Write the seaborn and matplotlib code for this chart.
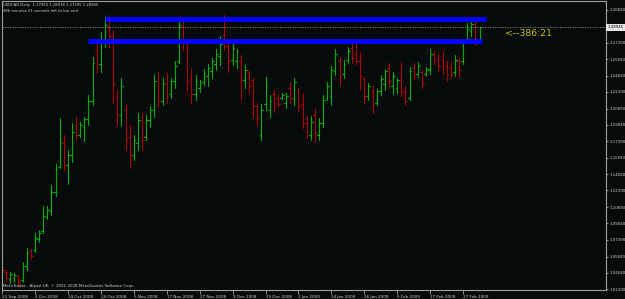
import numpy as np
import pandas as pd
import matplotlib
matplotlib.use("Agg")
import matplotlib.pyplot as plt
import matplotlib.transforms as mtransforms
import seaborn as sns

# ---------------- data ----------------
opens = [1.049, 1.041, 1.034, 1.035, 1.037, 1.033, 1.047, 1.062, 1.063, 1.075,
         1.083, 1.097, 1.103, 1.122, 1.148, 1.172, 1.150, 1.160, 1.190, 1.180,
         1.188, 1.196, 1.215, 1.266, 1.252, 1.275, 1.290, 1.280, 1.220, 1.200,
         1.205, 1.178, 1.160, 1.172, 1.195, 1.178, 1.195, 1.205, 1.235, 1.215,
         1.233, 1.222, 1.235, 1.255, 1.290, 1.272, 1.238, 1.222, 1.228, 1.234,
         1.240, 1.245, 1.252, 1.260, 1.282, 1.270, 1.256, 1.255, 1.255, 1.236,
         1.244, 1.236, 1.210, 1.180, 1.212, 1.205, 1.222, 1.218, 1.218, 1.213,
         1.228, 1.217, 1.225, 1.212, 1.192, 1.180, 1.200, 1.180, 1.192, 1.218,
         1.220, 1.245, 1.255, 1.242, 1.256, 1.268, 1.262, 1.255, 1.238, 1.220,
         1.225, 1.213, 1.225, 1.232, 1.248, 1.230, 1.228, 1.236, 1.225, 1.218,
         1.248, 1.242, 1.244, 1.242, 1.246, 1.262, 1.258, 1.256, 1.250, 1.248,
         1.244, 1.255, 1.255, 1.275, 1.286, 1.293, 1.2735]
highs = [1.051, 1.043, 1.041, 1.040, 1.038, 1.051, 1.066, 1.065, 1.081, 1.084,
         1.108, 1.108, 1.129, 1.151, 1.197, 1.180, 1.165, 1.192, 1.199, 1.193,
         1.198, 1.221, 1.259, 1.274, 1.285, 1.300, 1.302, 1.287, 1.226, 1.238,
         1.212, 1.190, 1.180, 1.202, 1.202, 1.200, 1.210, 1.241, 1.244, 1.238,
         1.243, 1.238, 1.255, 1.298, 1.299, 1.277, 1.248, 1.241, 1.236, 1.247,
         1.252, 1.258, 1.267, 1.280, 1.302, 1.274, 1.274, 1.267, 1.261, 1.251,
         1.246, 1.238, 1.213, 1.212, 1.239, 1.221, 1.226, 1.222, 1.223, 1.223,
         1.234, 1.238, 1.228, 1.223, 1.199, 1.199, 1.207, 1.197, 1.221, 1.234,
         1.250, 1.267, 1.258, 1.256, 1.269, 1.276, 1.273, 1.264, 1.239, 1.233,
         1.231, 1.227, 1.241, 1.247, 1.253, 1.244, 1.238, 1.254, 1.230, 1.249,
         1.253, 1.254, 1.246, 1.249, 1.267, 1.265, 1.262, 1.265, 1.255, 1.254,
         1.261, 1.258, 1.276, 1.294, 1.298, 1.297, 1.28978]
lows = [1.041, 1.032, 1.030, 1.031, 1.027, 1.031, 1.043, 1.054, 1.061, 1.072,
        1.081, 1.095, 1.099, 1.118, 1.147, 1.145, 1.130, 1.153, 1.175, 1.178,
        1.174, 1.190, 1.211, 1.243, 1.244, 1.269, 1.269, 1.213, 1.190, 1.190,
        1.165, 1.147, 1.155, 1.165, 1.165, 1.175, 1.188, 1.198, 1.209, 1.211,
        1.213, 1.218, 1.228, 1.253, 1.266, 1.224, 1.213, 1.216, 1.224, 1.231,
        1.230, 1.238, 1.246, 1.251, 1.266, 1.244, 1.251, 1.248, 1.216, 1.228,
        1.223, 1.198, 1.190, 1.175, 1.205, 1.198, 1.203, 1.209, 1.217, 1.207,
        1.213, 1.211, 1.203, 1.187, 1.177, 1.175, 1.173, 1.175, 1.188, 1.216,
        1.211, 1.241, 1.231, 1.238, 1.253, 1.253, 1.251, 1.226, 1.213, 1.216,
        1.202, 1.211, 1.221, 1.226, 1.228, 1.222, 1.223, 1.219, 1.211, 1.216,
        1.238, 1.239, 1.228, 1.240, 1.242, 1.252, 1.246, 1.242, 1.235, 1.239,
        1.240, 1.239, 1.252, 1.273, 1.280, 1.271, 1.27295]
closes = [1.043, 1.035, 1.039, 1.038, 1.031, 1.047, 1.060, 1.057, 1.076, 1.081,
          1.098, 1.104, 1.122, 1.146, 1.173, 1.150, 1.160, 1.183, 1.180, 1.190,
          1.196, 1.215, 1.253, 1.251, 1.276, 1.292, 1.280, 1.232, 1.200, 1.230,
          1.175, 1.160, 1.175, 1.195, 1.175, 1.195, 1.205, 1.235, 1.215, 1.232,
          1.220, 1.235, 1.250, 1.292, 1.275, 1.235, 1.222, 1.235, 1.233, 1.243,
          1.248, 1.255, 1.262, 1.272, 1.270, 1.255, 1.268, 1.265, 1.236, 1.246,
          1.230, 1.210, 1.197, 1.205, 1.230, 1.215, 1.213, 1.212, 1.221, 1.220,
          1.218, 1.234, 1.210, 1.192, 1.183, 1.193, 1.182, 1.192, 1.216, 1.230,
          1.246, 1.262, 1.240, 1.252, 1.265, 1.258, 1.255, 1.240, 1.220, 1.230,
          1.212, 1.225, 1.237, 1.245, 1.235, 1.240, 1.236, 1.224, 1.215, 1.245,
          1.242, 1.250, 1.232, 1.247, 1.262, 1.256, 1.250, 1.248, 1.242, 1.242,
          1.256, 1.246, 1.273, 1.288, 1.293, 1.273, 1.28945]

date_labels = ["22 Sep 2008", "2 Oct 2008", "14 Oct 2008", "24 Oct 2008",
               "5 Nov 2008", "17 Nov 2008", "27 Nov 2008", "9 Dec 2008",
               "19 Dec 2008", "2 Jan 2009", "14 Jan 2009", "26 Jan 2009",
               "5 Feb 2009", "17 Feb 2009", "27 Feb 2009"]
bars_per_label = 8

price_ticks = [1.30690, 1.29040, 1.27390, 1.25690, 1.24040, 1.22390, 1.20690,
               1.19040, 1.17390, 1.15690, 1.14040, 1.12390, 1.10690, 1.09040,
               1.07390, 1.05690, 1.04040, 1.02390]

current_price = 1.28945
level_prices = [1.2982, 1.2754]
level_start = [25, 21]
level_end = [117.6, 116.6]

title_line1 = "USDCAD,Daily  1.27350 1.28978 1.27295 1.28945"
title_line2 = "386 minutes 21 seconds left to bar end"
footer = "MetaTrader - Alpari UK, \u00a9 2001-2008 MetaQuotes Software Corp."
countdown = "<--386:21"

# ---------------- style ----------------
BG = "#050b0b"
UP = "#00b000"
DOWN = "#b00000"
FG = "#d0d0d0"
FRAME = "#a0a0a0"

sns.set_theme(style="dark", rc={"axes.facecolor": BG, "figure.facecolor": BG,
                               "axes.edgecolor": FRAME, "axes.grid": False})
plt.rcParams["font.family"] = ["DejaVu Sans"]

W, H = 625, 299
fig = plt.figure(figsize=(W / 100, H / 100), dpi=100)
ax = fig.add_axes([2 / W, 1 - 290 / H, 604 / W, 289 / H])
ax.set_facecolor(BG)

# ---------------- OHLC bars via seaborn lineplot ----------------
rows = []
tick_w = 0.42
for i, (o, h, l, c) in enumerate(zip(opens, highs, lows, closes)):
    d = "up" if c >= o else "down"
    rows += [(i, l, f"hl{i}", d), (i, h, f"hl{i}", d),
             (i - tick_w, o, f"o{i}", d), (i, o, f"o{i}", d),
             (i, c, f"c{i}", d), (i + tick_w, c, f"c{i}", d)]
df = pd.DataFrame(rows, columns=["bar", "price", "seg", "dir"])
sns.lineplot(data=df, x="bar", y="price", units="seg", hue="dir",
             estimator=None, sort=False, palette={"up": UP, "down": DOWN},
             linewidth=0.8, legend=False, ax=ax)

# resistance levels (blue)
for p, s, e in zip(level_prices, level_start, level_end):
    ax.plot([s, e], [p, p], color="#0000ff", lw=3.6, solid_capstyle="butt")

# current price dotted line
ax.axhline(current_price, color="#8a8a8a", lw=0.6, ls=(0, (1.5, 1.5)))

xmin = 0.1
xmax = xmin + 604 / 4.12
ax.set_xlim(xmin, xmax)
ax.set_ylim(1.317 - 0.001014 * 290, 1.317 - 0.001014 * 1)
ax.set_xlabel("")
ax.set_ylabel("")

for sp in ax.spines.values():
    sp.set_color(FRAME)
    sp.set_linewidth(0.8)

# y axis on right
ax.yaxis.tick_right()
ax.set_yticks(price_ticks)
ax.set_yticklabels([("" if abs(v - 1.29040) < 1e-6 else f"{v:.5f}") for v in price_ticks])
ax.tick_params(axis="y", colors=FRAME, labelcolor=FG, labelsize=2.75,
               length=1.6, width=0.6, pad=0.8, direction="out", right=True, left=False)

# x axis labels
ax.set_xticks([k * bars_per_label for k in range(len(date_labels))])
ax.set_xticklabels(date_labels)
for t in ax.get_xticklabels():
    t.set_ha("left")
ax.tick_params(axis="x", colors=FRAME, labelcolor=FG, labelsize=3.0,
               length=3.0, width=0.6, pad=0.8, direction="out", bottom=True)

# current price box
trans = mtransforms.blended_transform_factory(ax.transAxes, ax.transData)
ax.text(1.0 + 1.5 / 604, current_price, f"{current_price:.5f}", transform=trans,
        ha="left", va="center", fontsize=2.75, color="black", clip_on=False,
        bbox=dict(boxstyle="square,pad=0.35", fc="#e6e6e6", ec="none"))

# texts
fig.text(3 / W, 1 - 5 / H, title_line1, fontsize=2.7, color=FG, ha="left", va="center")
fig.text(3 / W, 1 - 11 / H, title_line2, fontsize=2.7, color=FG, ha="left", va="center")
fig.text(3 / W, 1 - 286 / H, footer, fontsize=2.9, color=FG, ha="left", va="center")
fig.text(505 / W, 1 - 33 / H, countdown, fontsize=6.7, color="#cdbf00",
         ha="left", va="center")

fig.savefig("out.png", dpi=100, facecolor=BG)
